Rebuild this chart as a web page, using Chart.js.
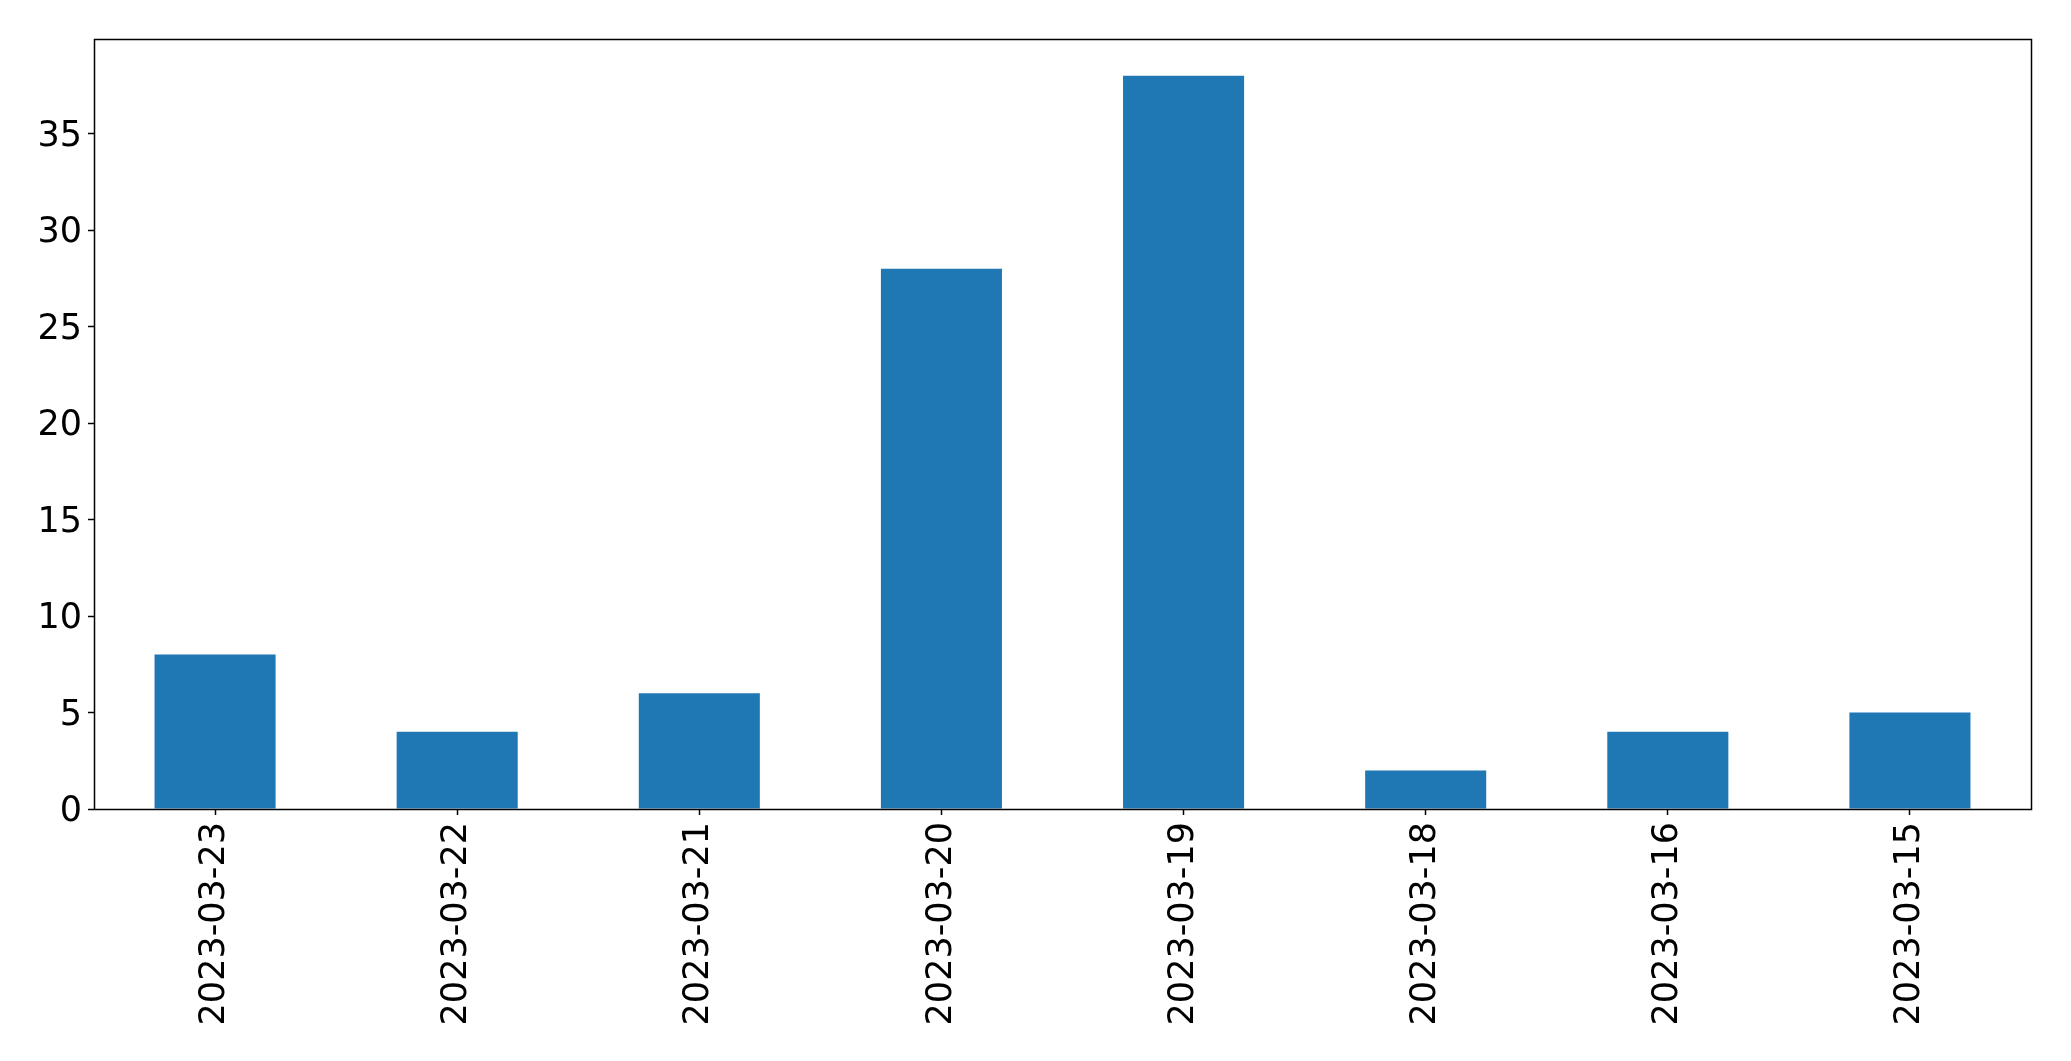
<!DOCTYPE html>
<html>
<head>
<meta charset="utf-8">
<script src="https://cdn.jsdelivr.net/npm/chart.js@4"></script>
<style>
  html, body { margin: 0; padding: 0; background: #fff; }
  #wrap { width: 2071px; height: 1061px; }
</style>
</head>
<body>
<div id="wrap"><canvas id="barChart" width="2071" height="1061"></canvas></div>
<script>
// data
const dates = ['2023-03-23', '2023-03-22', '2023-03-21', '2023-03-20', '2023-03-19', '2023-03-18', '2023-03-16', '2023-03-15'];
const counts = [8, 4, 6, 28, 38, 2, 4, 5];
const yTicks = [0, 5, 10, 15, 20, 25, 30, 35];

// box around the plot, like matplotlib's spines
const frame = {
    id: 'frame',
    afterDraw(chart) {
        const a = chart.chartArea;
        const ctx = chart.ctx;
        ctx.save();
        ctx.strokeStyle = '#000';
        ctx.lineWidth = 1.5;
        ctx.strokeRect(Math.round(a.left) + 0.5, Math.round(a.top) + 0.5,
            Math.round(a.right - a.left), Math.round(a.bottom - a.top));
        ctx.restore();
    }
};

const font = { family: 'DejaVu Sans', size: 35 };

new Chart(document.getElementById('barChart').getContext('2d'), {
    type: 'bar',
    data: {
        labels: dates,
        datasets: [{
            data: counts,
            backgroundColor: '#1f77b4',
            borderWidth: 0,
            barPercentage: 0.5,
            categoryPercentage: 1.0
        }]
    },
    options: {
        responsive: false,
        animation: false,
        layout: { padding: { top: 39, right: 40, left: 0, bottom: 0 } },
        plugins: { legend: { display: false }, tooltip: { enabled: false } },
        scales: {
            x: {
                offset: true,
                grid: { display: true, drawOnChartArea: false, tickLength: 6, tickWidth: 1.5, color: '#000', offset: false },
                border: { display: false },
                ticks: { color: '#000', font: font, maxRotation: 90, minRotation: 90, padding: 7, autoSkip: false },
                afterFit(scale) { scale.height = 252; }
            },
            y: {
                min: 0,
                max: 39.9,
                grid: { display: true, drawOnChartArea: false, tickLength: 6, tickWidth: 1.5, color: '#000' },
                border: { display: false },
                ticks: { color: '#000', font: font, stepSize: 5, includeBounds: false, padding: 6, labelOffset: 3 },
                afterBuildTicks(scale) { scale.ticks = yTicks.map(v => ({ value: v })); },
                afterFit(scale) { scale.width = 94; }
            }
        }
    },
    plugins: [frame]
});
</script>
</body>
</html>
